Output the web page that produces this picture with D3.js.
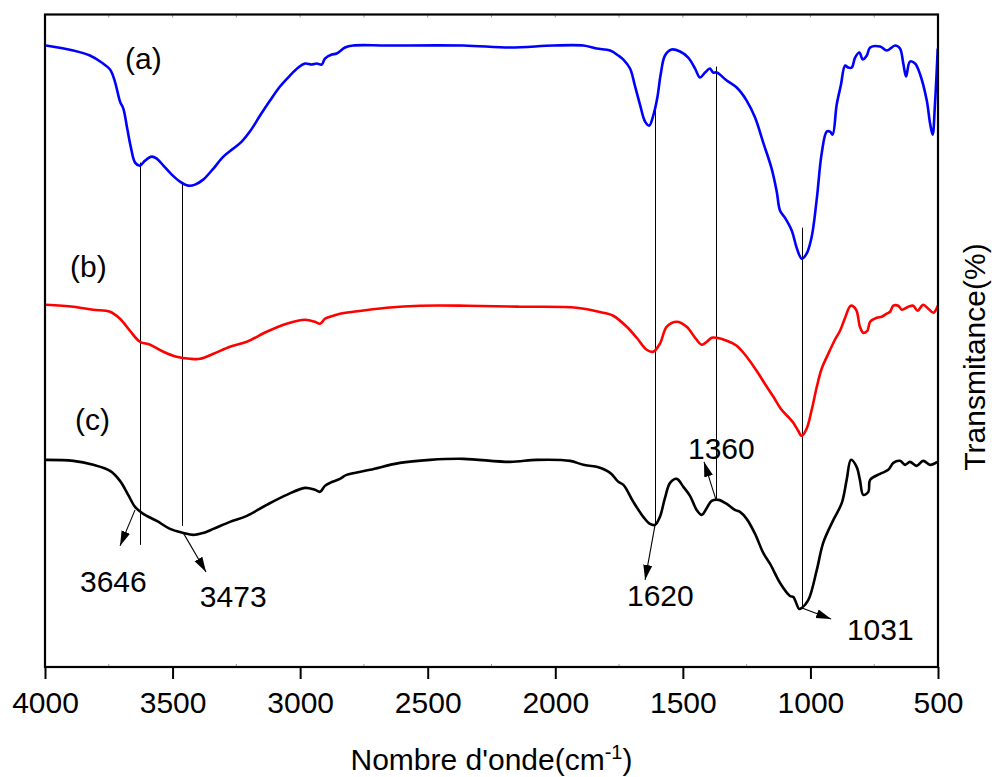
<!DOCTYPE html>
<html><head><meta charset="utf-8">
<script src="https://cdn.jsdelivr.net/npm/d3@7"></script>
<style>
body{margin:0;background:#fff;}
text{font-family:"Liberation Sans",Arial,Helvetica,sans-serif;fill:#000;}
</style></head>
<body><svg id="chart" width="992" height="777"></svg>
<script>
// ---- data (wavenumber cm-1, transmittance in offset arbitrary %) ----
const waveA = [3996,3889,3824,3778,3745,3726,3706,3693,3677,3664,3647,3628,3608,3582,3562,3536,3503,3471,3438,3412,3380,3340,3301,3262,3229,3197,3157,3118,3079,3040,3007,2981,2955,2935,2915,2903,2876,2857,2824,2792,2661,2360,2177,2008,1890,1838,1785,1753,1733,1707,1688,1668,1648,1632,1616,1600,1587,1570,1544,1511,1479,1452,1433,1413,1394,1381,1367,1328,1289,1250,1217,1185,1152,1132,1119,1100,1073,1054,1034,1015,995,975,956,936,923,913,897,881,864,852,838,825,808,795,779,766,727,701,668,649,636,625,610,590,570,544,531,521,512,501];
const transA = [62.1,61.6,61.1,60.4,59.7,58.5,56.5,55.8,53.7,52.0,50.4,50.1,50.6,51.0,50.8,50.1,49.2,48.5,48.1,48.2,48.7,49.8,51.0,51.8,52.5,53.5,55.1,56.6,58.0,59.1,59.9,60.3,60.2,60.3,60.2,60.8,61.2,61.3,61.9,62.1,62.1,62.1,61.9,62.1,62.1,61.8,61.6,61.1,60.7,59.8,58.1,56.2,54.5,54.1,55.1,56.9,59.2,61.1,61.7,61.5,60.9,59.8,58.9,59.4,59.8,59.4,59.4,58.6,57.9,56.6,54.9,52.4,49.8,47.5,45.6,44.9,43.6,41.9,40.8,41.3,43.0,46.8,51.3,53.5,53.5,53.2,56.2,58.1,60.1,59.9,59.9,60.9,61.4,60.7,61.1,61.9,62.0,61.6,62.1,61.8,60.3,59.0,60.5,60.3,59.2,56.6,54.3,53.2,56.2,61.8];

const waveB = [3996,3889,3811,3745,3706,3667,3628,3588,3536,3484,3432,3392,3340,3275,3209,3131,3053,2981,2942,2922,2903,2883,2844,2792,2661,2530,2347,2138,1916,1812,1773,1720,1681,1642,1616,1590,1563,1524,1485,1452,1426,1406,1387,1367,1328,1289,1250,1211,1171,1145,1113,1080,1067,1048,1034,1015,995,975,956,930,904,884,864,842,821,806,793,777,766,740,721,701,688,675,656,642,616,597,580,558,538,518,501];
const transB = [36.2,36.0,35.7,35.5,34.8,33.6,32.5,32.2,31.5,31.0,30.8,30.8,31.3,32.0,32.5,33.5,34.3,34.7,34.5,34.3,34.8,35.0,35.3,35.5,35.9,36.1,36.1,36.0,35.9,35.4,35.1,34.0,32.9,31.7,31.5,32.3,34.0,34.5,34.0,32.9,32.2,32.5,32.9,32.9,32.6,32.1,31.0,29.6,28.0,27.0,25.7,24.8,24.4,23.6,23.1,23.8,25.7,28.0,29.8,31.3,32.7,33.6,34.9,36.1,35.7,34.0,33.4,33.6,34.5,34.9,35.0,35.3,35.5,36.1,36.1,35.7,36.0,36.1,35.6,36.2,35.8,35.4,36.1];

const waveC = [3996,3889,3811,3745,3706,3674,3647,3615,3562,3510,3458,3419,3380,3340,3275,3209,3131,3053,2981,2942,2922,2903,2883,2844,2818,2726,2609,2491,2360,2177,2073,1942,1890,1838,1785,1753,1733,1694,1655,1629,1609,1590,1570,1550,1524,1498,1472,1446,1426,1406,1387,1361,1328,1296,1276,1250,1217,1185,1158,1119,1080,1067,1044,1034,1008,975,950,910,877,858,841,819,806,793,773,766,727,695,675,649,629,610,584,558,531,503];
const transC = [20.7,20.6,20.2,19.6,18.6,17.2,16.0,15.3,14.6,13.8,13.4,13.2,13.4,13.8,14.5,15.1,16.2,17.2,17.9,17.7,17.5,18.1,18.4,18.8,19.2,19.7,20.4,20.7,20.8,20.5,20.7,20.6,20.2,20.0,19.4,18.5,18.2,16.5,15.0,14.3,14.2,15.0,16.9,18.4,18.8,18.0,17.1,15.7,15.2,15.9,16.6,16.7,16.3,15.7,15.5,14.8,13.3,11.4,10.3,8.4,7.1,7.0,5.8,5.9,6.7,9.7,12.4,14.7,16.4,18.7,20.7,20.0,18.7,17.2,17.5,18.7,19.3,19.7,20.4,20.6,20.2,20.5,20.1,20.6,20.2,20.5];

const seriesNames = ["(a)","(b)","(c)"];
const seriesColors = ["#0000ff","#ff0000","#000000"];
const seriesLabelWave = [3686,3902,3882];
const seriesLabelVal = [59.8,39.0,23.7];

// vertical guide lines
const guideWave = [3628,3464,1609,1370,1033];
const guideTop = [50.4,48.4,56.0,60.0,43.9];
const guideBottom = [12.2,14.1,14.2,16.8,6.0];

// peak annotations (arrow from curve point to label)
const peakLabels = ["3646","3473","1620","1360","1031"];
const arrowFromWave = [3647,3458,1609,1370,1033];
const arrowFromVal = [15.7,13.4,14.2,16.7,5.9];
const arrowToWave = [3706,3369,1648,1417,919];
const arrowToVal = [12.1,9.5,8.7,20.5,4.8];
const labelWave = [3863,3393,1719,1480,857];
const labelVal = [7.5,6.0,6.1,20.8,2.7];

const xTicks = [4000,3500,3000,2500,2000,1500,1000,500];
const xMinorTicks = [3750,3250,2750,2250,1750,1250,750];

// ---- layout ----
const L = 45, R = 938, T = 14.5, B = 667;
const svg = d3.select("#chart");
const x = d3.scaleLinear().domain([4000,500]).range([L,R]);
const y = d3.scaleLinear().domain([0,65.2]).range([B,T]);

// guide lines
svg.append("g").selectAll("line").data(guideWave).join("line")
  .attr("x1",d=>Math.round(x(d))+0.5).attr("x2",d=>Math.round(x(d))+0.5)
  .attr("y1",(d,i)=>y(guideTop[i])).attr("y2",(d,i)=>y(guideBottom[i]))
  .attr("stroke","#000").attr("stroke-width",1);

// curves
const series = [[waveA,transA],[waveB,transB],[waveC,transC]];
const line = d3.line().x(d=>x(d[0])).y(d=>y(d[1])).curve(d3.curveCatmullRom.alpha(0.5));
series.forEach((s,i)=>{
  const pts = s[0].map((w,j)=>[w,s[1][j]]);
  svg.append("path").datum(pts).attr("d",line)
    .attr("fill","none").attr("stroke",seriesColors[i]).attr("stroke-width",2.6)
    .attr("stroke-linejoin","round");
});

// series labels
svg.append("g").selectAll("text").data(seriesNames).join("text")
  .attr("x",(d,i)=>x(seriesLabelWave[i])).attr("y",(d,i)=>y(seriesLabelVal[i]))
  .attr("font-size",30).text(d=>d);

// arrows
const defs = svg.append("defs");
defs.append("marker").attr("id","ah").attr("markerUnits","userSpaceOnUse")
  .attr("markerWidth",16).attr("markerHeight",10).attr("refX",15).attr("refY",5)
  .attr("orient","auto")
  .append("path").attr("d","M0,0.5 L15,5 L0,9.5 Z").attr("fill","#000");
svg.append("g").selectAll("line").data(peakLabels).join("line")
  .attr("x1",(d,i)=>x(arrowFromWave[i])).attr("y1",(d,i)=>y(arrowFromVal[i]))
  .attr("x2",(d,i)=>x(arrowToWave[i])).attr("y2",(d,i)=>y(arrowToVal[i]))
  .attr("stroke","#000").attr("stroke-width",1.1).attr("marker-end","url(#ah)");
svg.append("g").selectAll("text").data(peakLabels).join("text")
  .attr("x",(d,i)=>x(labelWave[i])).attr("y",(d,i)=>y(labelVal[i]))
  .attr("font-size",30).text(d=>d);

// axes
const xAxis = svg.append("g").attr("transform",`translate(0,${B})`)
  .call(d3.axisBottom(x).tickValues(xTicks).tickSize(12).tickSizeOuter(0).tickFormat(d3.format("d")));
xAxis.select(".domain").remove();
xAxis.selectAll(".tick line").attr("stroke","#000").attr("stroke-width",2);
xAxis.selectAll(".tick text").attr("y",46).attr("dy",0).attr("font-size",30)
  .attr("font-family",'"Liberation Sans",Arial,sans-serif').attr("fill","#000");

// minor ticks (faint, inside) on bottom and top
const minorG = svg.append("g");
xMinorTicks.forEach(t=>{
  minorG.append("line").attr("x1",x(t)).attr("x2",x(t)).attr("y1",B).attr("y2",B-3).attr("stroke","#999").attr("stroke-width",1);
});
xTicks.concat(xMinorTicks).forEach(t=>{
  minorG.append("line").attr("x1",x(t)).attr("x2",x(t)).attr("y1",T).attr("y2",T+3).attr("stroke","#999").attr("stroke-width",1);
});

// frame
svg.append("rect").attr("x",L).attr("y",T).attr("width",R-L).attr("height",B-T)
  .attr("fill","none").attr("stroke","#000").attr("stroke-width",2.2);

// axis titles
const xt = svg.append("text").attr("x",(L+R)/2).attr("y",770).attr("text-anchor","middle").attr("font-size",30);
xt.append("tspan").text("Nombre d'onde(cm");
xt.append("tspan").attr("dy",-11).attr("font-size",20).text("-1");
xt.append("tspan").attr("dy",11).text(")");

svg.append("text").attr("transform","translate(985,357) rotate(-90)")
  .attr("text-anchor","middle").attr("font-size",30).text("Transmitance(%)");
</script></body></html>
